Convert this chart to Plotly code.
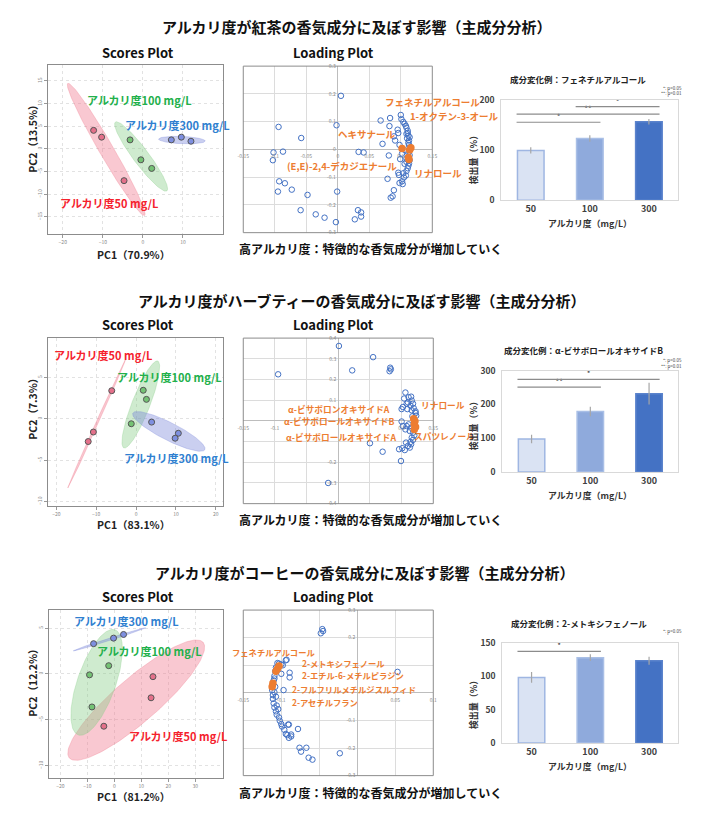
import numpy as np
import plotly.graph_objects as go

W, H = 711, 823
FONT = "Noto Sans CJK JP"

# ---------------- text ----------------
row_titles = ["アルカリ度が紅茶の香気成分に及ぼす影響（主成分分析）",
              "アルカリ度がハーブティーの香気成分に及ぼす影響（主成分分析）",
              "アルカリ度がコーヒーの香気成分に及ぼす影響（主成分分析）"]
conclusion = "高アルカリ度：特徴的な香気成分が増加していく"
group_names = ["アルカリ度50 mg/L", "アルカリ度100 mg/L", "アルカリ度300 mg/L"]
pc1_labels = ["PC1（70.9%）", "PC1（83.1%）", "PC1（81.2%）"]
pc2_labels = ["PC2（13.5%）", "PC2（7.3%）", "PC2（12.2%）"]
bar_titles = ["成分変化例：フェネチルアルコール",
              "成分変化例：α-ビサボロールオキサイドB",
              "成分変化例：2-メトキシフェノール"]
bar_xtitle = "アルカリ度（mg/L）"
bar_ytitle = "検出量（%）"
sig_notes = [["*: p<0.05", "**: p<0.01"], ["*: p<0.05", "**: p<0.01"], ["*: p<0.05"]]

# ---------------- scores data (order: 50, 100, 300 mg/L) ----------------
tea_pc1_50 = [-12.3, -10.3, -4.7];  tea_pc2_50 = [4.1, 2.6, -7.0]
tea_pc1_100 = [-3.2, -0.5, 2.2];    tea_pc2_100 = [2.0, -2.4, -4.3]
tea_pc1_300 = [7.1, 9.6, 12.0];     tea_pc2_300 = [2.0, 2.6, 1.7]

herb_pc1_50 = [-6.1, -10.7, -12.0]; herb_pc2_50 = [3.4, -1.6, -2.75]
herb_pc1_100 = [1.8, 2.6, -1.2];    herb_pc2_100 = [3.45, 2.35, -0.6]
herb_pc1_300 = [3.9, 10.6, 9.8];    herb_pc2_300 = [-0.4, -1.75, -2.35]

coffee_pc1_50 = [14.3, 13.6, -3.9]; coffee_pc2_50 = [-0.3, -2.6, -5.7]
coffee_pc1_100 = [-2.1, -9.2, -8.3]; coffee_pc2_100 = [0.9, -0.1, -3.6]
coffee_pc1_300 = [-7.7, -0.3, 3.4]; coffee_pc2_300 = [3.3, 3.9, 4.3]

# confidence ellipses: centre, semi-axis vector u, semi-axis vector v (data units)
tea_ell_50 = [-9.16, -0.11, 9.58, -14.6, 1.53, 0.79]
tea_ell_100 = [-0.44, -1.67, 6.43, -7.61, 1.57, 1.04]
tea_ell_300 = [9.75, 1.96, 5.82, -0.22, 0.036, 0.80]
herb_ell_50 = [-9.9, -0.63, 7.2, 7.74, 0.27, -0.06]
herb_ell_100 = [1.19, 1.73, 4.25, 5.25, -2.09, 0.39]
herb_ell_300 = [8.22, -1.52, 9.02, -2.21, 1.01, 0.95]
coffee_ell_50 = [8.1, -2.86, 24.78, 6.30, -5.33, 1.83]
coffee_ell_100 = [-6.57, -0.92, 6.81, 5.73, -6.68, 0.69]
coffee_ell_300 = [-1.82, 3.77, 13.39, 1.25, -0.13, 0.12]

tea_lab_x = [-21.1, -14.5, -4.9];  tea_lab_y = [-12.0, 10.9, 5.2]
herb_lab_x = [-21.0, -5.2, -3.5];  herb_lab_y = [7.7, 5.0, -4.8]
coffee_lab_x = [4.7, -7.3, -15.7]; coffee_lab_y = [-6.8, 2.5, 5.8]

tea_xticks = [-20, -10, 0, 10];          tea_yticks = [-15, -10, -5, 0, 5, 10, 15]
herb_xticks = [-20, -10, 0, 10, 20];     herb_yticks = [-10, -5, 0, 5]
coffee_xticks = [-20, -10, 0, 10, 20, 30]; coffee_yticks = [-10, -5, 0, 5]

# ---------------- loading data ----------------
tea_load_x = [0.005, -0.002, -0.094, -0.058, -0.102, -0.103, -0.087, -0.093, -0.084, -0.095,
              -0.073, -0.048, -0.001, -0.059, -0.035, -0.021, -0.003, 0.027, 0.032, 0.037,
              0.037, 0.033, 0.041, 0.068, 0.083, 0.082, 0.071, 0.081, 0.079, 0.084,
              0.087, 0.089,
              0.100, 0.101, 0.106, 0.095, 0.109, 0.111, 0.111, 0.112, 0.110, 0.113,
              0.112, 0.113, 0.089, 0.091, 0.098, 0.107, 0.112, 0.102, 0.114, 0.099,
              0.109, 0.113, 0.106, 0.112, 0.111, 0.109, 0.096, 0.104, 0.097, 0.108,
              0.105, 0.102, 0.098, 0.103, 0.109, 0.114, 0.115, 0.108, 0.104, 0.096,
              0.109, 0.114]
tea_load_y = [0.193, 0.087, 0.081, 0.041, -0.011, -0.039, -0.008, -0.115, -0.122, -0.152,
              -0.145, -0.164, -0.152, -0.219, -0.234, -0.246, -0.262, -0.252, -0.219, -0.227,
              -0.242, -0.009, -0.011, 0.104, 0.113, 0.084, 0.020, -0.022, -0.106, -0.174,
              -0.169, -0.147,
              0.124, 0.109, 0.092, 0.071, 0.078, 0.067, 0.059, 0.049, 0.040, 0.032,
              0.024, 0.016, 0.047, 0.032, 0.016, -0.004, -0.012, -0.015, -0.021, -0.035,
              -0.045, -0.051, -0.052, -0.059, -0.068, -0.078, -0.084, -0.086, -0.092, -0.094,
              -0.101, -0.115, -0.121, -0.125, 0.056, 0.044, 0.008, 0.085, 0.099, 0.059,
              -0.033, -0.039]
tea_key_x = [0.102, 0.116, 0.114, 0.113, 0.112]
tea_key_y = [0.003, 0.006, -0.002, -0.036, -0.029]
tea_key_names = ["フェネチルアルコール", "1-オクテン-3-オール", "ヘキサナール",
                 "(E,E)-2,4-デカジエナール", "リナロール"]
tea_key_lab_x = [0.072, 0.111, -0.003, -0.084, 0.117]
tea_key_lab_y = [0.170, 0.121, 0.057, -0.060, -0.085]
tea_key_lab_side = ["left", "left", "left", "left", "left"]

herb_load_x = [0.001, 0.055, 0.022, 0.082, 0.083, 0.081, -0.095, -0.016, 0.050, 0.070,
               0.099, 0.096, 0.101, 0.105, 0.100, 0.106, 0.104, 0.100, 0.109, 0.111,
               0.115,
               0.116, 0.110, 0.118, 0.114, 0.119, 0.116, 0.122, 0.123, 0.117, 0.111,
               0.108, 0.115, 0.113, 0.118, 0.120, 0.116, 0.118, 0.114, 0.110, 0.115,
               0.107, 0.102, 0.108, 0.122, 0.106, 0.113, 0.102]
herb_load_y = [0.362, 0.308, 0.244, 0.257, 0.249, 0.240, 0.225, -0.300, -0.108, -0.149,
               -0.194, -0.137, -0.132, -0.141, -0.003, 0.137, 0.108, 0.057, 0.057, 0.114,
               0.117,
               0.098, 0.089, 0.083, 0.073, 0.062, 0.051, 0.038, 0.025, 0.022, -0.017,
               -0.025, -0.033, -0.049, -0.057, -0.070, -0.081, -0.092, -0.102, -0.121, -0.113,
               -0.105, 0.067, 0.083, 0.046, -0.041, -0.129, -0.025]
herb_key_x = [0.119, 0.121, 0.120, 0.122, 0.120]
herb_key_y = [0.010, -0.002, -0.016, -0.030, -0.042]
herb_key_names = ["リナロール", "α-ビサボロンオキサイドA", "α-ビサボロールオキサイドB",
                  "α-ビサボロールオキサイドA", "スパツレノール"]
herb_key_lab_x = [0.127, -0.082, -0.089, -0.085, 0.117]
herb_key_lab_y = [0.076, 0.055, -0.005, -0.081, -0.076]
herb_key_lab_side = ["left", "left", "left", "left", "left"]

coffee_load_x = [-0.046, -0.045, -0.048, -0.094, -0.089, -0.089, -0.100, -0.097, 0.053, -0.023,
                 -0.078, -0.090, -0.076, -0.074, -0.067, -0.064, -0.059,
                 -0.105, -0.103, -0.100, -0.098, -0.107, -0.108, -0.109, -0.110, -0.111, -0.112,
                 -0.111, -0.111, -0.110, -0.109, -0.107, -0.106, -0.103, -0.102, -0.100, -0.099,
                 -0.096, -0.094, -0.092, -0.090, -0.087, -0.091, -0.109, -0.107, -0.109, -0.108,
                 -0.106, -0.104, -0.087, -0.093]
coffee_load_y = [0.231, 0.224, 0.216, 0.118, 0.073, 0.056, 0.069, 0.010, 0.076, -0.219,
                 -0.131, -0.115, -0.199, -0.213, -0.199, -0.235, -0.242,
                 0.108, 0.106, 0.103, 0.100, 0.092, 0.078, 0.061, 0.045, 0.028, 0.010,
                 -0.008, -0.022, -0.038, -0.053, -0.067, -0.079, -0.089, -0.101, -0.113, -0.122,
                 -0.134, -0.149, -0.153, -0.163, -0.158, -0.115, 0.052, -0.014, 0.002, 0.022,
                 -0.046, -0.059, -0.151, 0.120]
coffee_key_x = [-0.103, -0.105, -0.107, -0.111, -0.112]
coffee_key_y = [0.097, 0.087, 0.078, 0.035, 0.022]
coffee_key_names = ["フェネチルアルコール", "2-メトキシフェノール", "2-エチル-6-メチルピラジン",
                    "2-フルフリルメチルジスルフィド", "2-アセチルフラン"]
coffee_key_lab_x = [-0.053, -0.076, -0.076, -0.089, -0.089]
coffee_key_lab_y = [0.147, 0.107, 0.063, 0.014, -0.032]
coffee_key_lab_side = ["right", "left", "left", "left", "left"]

# loading tick values and their labels (labels hidden where the reference hides them)
tea_load_xt = [-0.15, -0.1, -0.05, 0, 0.05, 0.1, 0.15]
tea_load_xl = ["-0.15", "-0.1", "-0.05", "0", "0.05", "0.1", "0.15"]
tea_load_yt = [-0.3, -0.2, -0.1, 0, 0.1, 0.2, 0.3]
tea_load_yl = ["-0.3", "-0.2", "-0.1", "0", "0.1", "0.2", "0.3"]
herb_load_xt = [-0.15, -0.1, -0.05, 0, 0.05, 0.1, 0.15]
herb_load_xl = ["-0.15", "-0.1", "", "", "", "0.1", "0.15"]
herb_load_yt = [-0.4, -0.3, -0.2, -0.1, 0, 0.1, 0.2, 0.3, 0.4]
herb_load_yl = ["-0.4", "-0.3", "-0.2", "", "", "0.1", "0.2", "0.3", "0.4"]
coffee_load_xt = [-0.15, -0.1, -0.05, 0, 0.05, 0.1]
coffee_load_xl = ["-0.15", "-0.1", "", "", "0.05", "0.1"]
coffee_load_yt = [-0.3, -0.2, -0.1, 0, 0.1, 0.2, 0.3]
coffee_load_yl = ["-0.3", "-0.2", "-0.1", "", "", "0.2", "0.3"]

# ---------------- bar data ----------------
conc = ["50", "100", "300"]
tea_bar = [99, 122.5, 156];     tea_err = [6, 6.5, 5.5]
herb_bar = [98, 179, 232];      herb_err = [12.5, 14, 32]
coffee_bar = [98, 127.5, 123];  coffee_err = [8, 5, 6]
tea_bar_yticks = [0, 100, 200]
herb_bar_yticks = [0, 100, 200, 300]
coffee_bar_yticks = [0, 50, 100, 150]
tea_sig_from = [0, 0, 1];  tea_sig_to = [1, 2, 2];  tea_sig_h = [155, 171, 186];  tea_sig_lab = ["*", "**", "*"]
herb_sig_from = [0, 0];    herb_sig_to = [1, 2];    herb_sig_h = [251, 274];      herb_sig_lab = ["**", "*"]
coffee_sig_from = [0];     coffee_sig_to = [1];     coffee_sig_h = [137];         coffee_sig_lab = ["*"]

# ---------------- styles ----------------
point_colors = ["#e4708a", "#74c274", "#7e8fe0"]
ell_colors = ["rgba(240,125,145,0.42)", "rgba(135,205,135,0.40)", "rgba(115,128,215,0.38)"]
label_colors = ["#f5222d", "#22b04b", "#2f80d0"]
ORANGE = "#ed7d31"
BLUE = "#4472c4"
bar_fill = ["#dae3f3", "#8faadc", "#4472c4"]
bar_edge = ["#9fb6e2", "#a9bfe6", "#5b83cc"]

fig = go.Figure()
axes = {}
annotations = []
shapes = []


def fx(px):
    return px / W


def fy(py):
    return 1 - py / H


def ids(i):
    s = "" if i == 1 else str(i)
    return "x" + s, "y" + s, "xaxis" + s, "yaxis" + s


def text(t, px, py, size, color="#000", xanchor="center", angle=0, bold=True):
    annotations.append(dict(text=t, x=fx(px), y=fy(py), xref="paper", yref="paper",
                            xanchor=xanchor, yanchor="middle", showarrow=False, textangle=angle,
                            font=dict(family=FONT, size=size, color=color,
                                      weight="bold" if bold else "normal")))


def scores(i, box, xr, yr, xt, yt, pts, ells, lab_x, lab_y):
    xa, ya, xk, yk = ids(i)
    x0, x1, y0, y1 = box
    t = np.linspace(0, 2 * np.pi, 160)
    for (cx, cy, ux, uy, vx, vy), col in zip(ells, ell_colors):
        fig.add_trace(go.Scatter(x=cx + ux * np.cos(t) + vx * np.sin(t),
                                 y=cy + uy * np.cos(t) + vy * np.sin(t),
                                 mode="lines", fill="toself", fillcolor=col,
                                 line=dict(color=col, width=0.8), xaxis=xa, yaxis=ya,
                                 hoverinfo="skip"))
    for (gx, gy), col in zip(pts, point_colors):
        fig.add_trace(go.Scatter(x=gx, y=gy, mode="markers", xaxis=xa, yaxis=ya,
                                 marker=dict(size=6, color=col, line=dict(color="#555", width=1))))
    common = dict(ticks="outside", ticklen=3, tickcolor="#999",
                  tickfont=dict(size=5, color="#888", family=FONT),
                  showgrid=True, gridcolor="#e2e2e2", griddash="dot", zeroline=False,
                  showline=True, linecolor="#8c8c8c", mirror=True)
    axes[xk] = dict(domain=[fx(x0), fx(x1)], range=xr, anchor=ya, tickvals=xt, **common)
    axes[yk] = dict(domain=[fy(y1), fy(y0)], range=yr, anchor=xa, tickvals=yt, tickangle=-90, **common)
    for name, lx, ly, col in zip(group_names, lab_x, lab_y, label_colors):
        annotations.append(dict(text=name, x=lx, y=ly, xref=xa, yref=ya, xanchor="left",
                                yanchor="middle", showarrow=False,
                                font=dict(family=FONT, size=11, color=col, weight="bold")))


def loading(i, box, xr, yr, xt, xl, yt, yl, bx, by, kx, ky, names, nx, ny, side, lsize):
    xa, ya, xk, yk = ids(i)
    x0, x1, y0, y1 = box
    fig.add_trace(go.Scatter(x=bx, y=by, mode="markers", xaxis=xa, yaxis=ya,
                             marker=dict(symbol="circle-open", size=5.5, color=BLUE,
                                         line=dict(width=1, color=BLUE))))
    fig.add_trace(go.Scatter(x=kx, y=ky, mode="markers", xaxis=xa, yaxis=ya,
                             marker=dict(size=7.5, color=ORANGE)))
    zy = y1 - (0 - yr[0]) / (yr[1] - yr[0]) * (y1 - y0)
    zx = x0 + (0 - xr[0]) / (xr[1] - xr[0]) * (x1 - x0)
    common = dict(ticks="outside", tickcolor="rgba(0,0,0,0)",
                  tickfont=dict(size=5, color="#888", family=FONT),
                  showgrid=True, gridcolor="#dcdcdc", gridwidth=1,
                  zeroline=True, zerolinecolor="#bdbdbd", zerolinewidth=1, showline=False)
    axes[xk] = dict(domain=[fx(x0), fx(x1)], range=xr, anchor="free", position=fy(zy),
                    tickvals=xt, ticktext=xl, ticklen=2, **common)
    axes[yk] = dict(domain=[fy(y1), fy(y0)], range=yr, anchor="free", position=fx(zx),
                    tickvals=yt, ticktext=yl, ticklen=1, **common)
    shapes.append(dict(type="rect", xref=xa + " domain", yref=ya + " domain",
                       x0=0, x1=1, y0=0, y1=1, line=dict(color="#8c8c8c", width=1)))
    for n, lx, ly, sd in zip(names, nx, ny, side):
        annotations.append(dict(text=n, x=lx, y=ly, xref=xa, yref=ya, xanchor=sd,
                                yanchor="middle", showarrow=False,
                                font=dict(family=FONT, size=lsize, color=ORANGE, weight="bold")))


def bars(i, box, vals, errs, ymax, yt, sf, st, sh, sl):
    xa, ya, xk, yk = ids(i)
    x0, x1, y0, y1 = box
    xs = list(range(len(conc)))
    fig.add_trace(go.Bar(x=xs, y=vals, width=0.45, xaxis=xa, yaxis=ya,
                         marker=dict(color=bar_fill, line=dict(color=bar_edge, width=1.5)),
                         error_y=dict(type="data", array=errs, color="#a6a6a6",
                                      thickness=1.2, width=0)))
    for a, b, h, lab in zip(sf, st, sh, sl):
        fig.add_trace(go.Scatter(x=[a - 0.24, b + 0.18], y=[h, h], mode="lines",
                                 xaxis=xa, yaxis=ya, line=dict(color="#8c8c8c", width=1.2),
                                 hoverinfo="skip"))
        fig.add_trace(go.Scatter(x=[(a - 0.24 + b + 0.18) / 2], y=[h], mode="text", text=[lab],
                                 textposition="top center", xaxis=xa, yaxis=ya,
                                 textfont=dict(size=8, color="#333", family=FONT)))
    axes[xk] = dict(domain=[fx(x0), fx(x1)], range=[-0.5, len(conc) - 0.5], anchor=ya,
                    tickvals=xs, ticktext=conc, ticks="",
                    tickfont=dict(size=9, color="#404040", family=FONT, weight="bold"),
                    showline=True, linecolor="#d9d9d9", mirror=True, showgrid=False,
                    zeroline=False)
    axes[yk] = dict(domain=[fy(y1), fy(y0)], range=[0, ymax], anchor=xa, tickvals=yt,
                    ticks="outside", ticklen=4, tickcolor="rgba(0,0,0,0)",
                    tickfont=dict(size=8.5, color="#404040", family=FONT, weight="bold"),
                    showline=True, linecolor="#d9d9d9", mirror=True, showgrid=False,
                    zeroline=False)


# ---------------- row 1: tea ----------------
scores(1, (43, 220, 59, 230), [-23.6, 19.9], [-18.7, 18.5], tea_xticks, tea_yticks,
       [(tea_pc1_50, tea_pc2_50), (tea_pc1_100, tea_pc2_100), (tea_pc1_300, tea_pc2_300)],
       [tea_ell_50, tea_ell_100, tea_ell_300], tea_lab_x, tea_lab_y)
loading(2, (241, 433, 60, 229), [-0.15, 0.15], [-0.3, 0.3],
        tea_load_xt, tea_load_xl, tea_load_yt, tea_load_yl,
        tea_load_x, tea_load_y, tea_key_x, tea_key_y, tea_key_names,
        tea_key_lab_x, tea_key_lab_y, tea_key_lab_side, 9.5)
bars(3, (503, 683, 94, 196), tea_bar, tea_err, 200, tea_bar_yticks,
     tea_sig_from, tea_sig_to, tea_sig_h, tea_sig_lab)

# ---------------- row 2: herb tea ----------------
scores(4, (43, 220, 336, 506), [-22, 21.7], [-10.5, 9.76], herb_xticks, herb_yticks,
       [(herb_pc1_50, herb_pc2_50), (herb_pc1_100, herb_pc2_100), (herb_pc1_300, herb_pc2_300)],
       [herb_ell_50, herb_ell_100, herb_ell_300], herb_lab_x, herb_lab_y)
loading(5, (241, 434, 336, 504), [-0.15, 0.15], [-0.4, 0.4],
        herb_load_xt, herb_load_xl, herb_load_yt, herb_load_yl,
        herb_load_x, herb_load_y, herb_key_x, herb_key_y, herb_key_names,
        herb_key_lab_x, herb_key_lab_y, herb_key_lab_side, 8.7)
bars(6, (504, 683, 369, 472), herb_bar, herb_err, 300, herb_bar_yticks,
     herb_sig_from, herb_sig_to, herb_sig_h, herb_sig_lab)

# ---------------- row 3: coffee ----------------
scores(7, (44, 220, 612, 782), [-24.1, 40.1], [-11.3, 6.96], coffee_xticks, coffee_yticks,
       [(coffee_pc1_50, coffee_pc2_50), (coffee_pc1_100, coffee_pc2_100),
        (coffee_pc1_300, coffee_pc2_300)],
       [coffee_ell_50, coffee_ell_100, coffee_ell_300], coffee_lab_x, coffee_lab_y)
loading(8, (241, 434, 612, 780), [-0.15, 0.1], [-0.3, 0.3],
        coffee_load_xt, coffee_load_xl, coffee_load_yt, coffee_load_yl,
        coffee_load_x, coffee_load_y, coffee_key_x, coffee_key_y, coffee_key_names,
        coffee_key_lab_x, coffee_key_lab_y, coffee_key_lab_side, 8.3)
bars(9, (504, 683, 645, 747), coffee_bar, coffee_err, 150, coffee_bar_yticks,
     coffee_sig_from, coffee_sig_to, coffee_sig_h, coffee_sig_lab)

# ---------------- text ----------------
title_y = [20, 298, 574]
title_x = [356, 362, 364]
panel_y = [46, 322, 598]
concl_y = [245, 520, 797]
pc1_y = [251, 525, 801]
pc2_y = [131, 405, 683]
bar_title_pos = [(581, 73), (587, 348), (582, 625)]
note_y = [[83, 88], [359, 365], [634]]
bar_ytitle_y = [153, 423, 706]
bar_xtitle_y = [219.5, 495.5, 770.5]

for r in range(3):
    text(row_titles[r], title_x[r], title_y[r], 15, "#111")
    text("Scores Plot", 134, panel_y[r], 13, "#111")
    text("Loading Plot", 333, panel_y[r], 13, "#111")
    text(conclusion, 370, concl_y[r], 12, "#111")
    text(pc1_labels[r], 129, pc1_y[r], 10.5, "#222")
    text(pc2_labels[r], 26, pc2_y[r], 10.5, "#222", angle=-90)
    text(bar_titles[r], bar_title_pos[r][0], bar_title_pos[r][1], 8.5, "#222")
    for note, ny in zip(sig_notes[r], note_y[r]):
        text(note, 689, ny, 4.5, "#444", xanchor="right", bold=False)
    text(bar_ytitle, 475, bar_ytitle_y[r], 9, "#333", angle=-90)
    text(bar_xtitle, 593, bar_xtitle_y[r], 8.8, "#333")

fig.update_layout(width=W, height=H, margin=dict(l=0, r=0, t=0, b=0),
                  paper_bgcolor="white", plot_bgcolor="white", showlegend=False,
                  annotations=annotations, shapes=shapes, **axes)
fig.write_html("out.html", config={"displayModeBar": False},
               post_script="document.body.style.margin='0px';"
                           "document.body.style.overflow='hidden';")
